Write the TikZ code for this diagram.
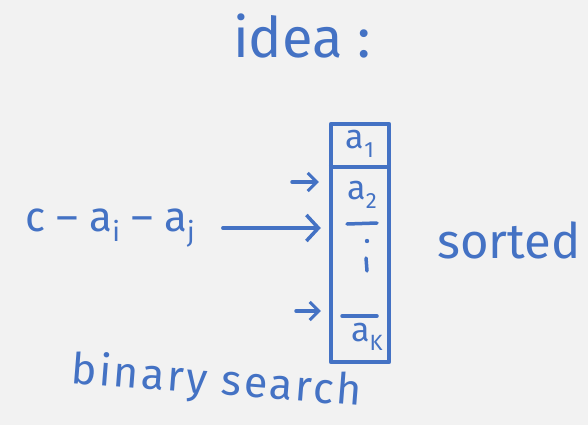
\documentclass[tikz,border=0pt]{standalone}
\usepackage{fontspec}
\setmainfont{Fira Sans}
\usetikzlibrary{arrows.meta,calc}
\definecolor{ink}{HTML}{4472C4}
\definecolor{bg}{HTML}{F2F2F2}
\newcommand{\sub}[1]{\raisebox{-0.25em}{\fontsize{0.65em}{0.65em}\selectfont #1}}
\begin{document}
\begin{tikzpicture}[x=1pt,y=-1pt,
  inkline/.style={draw=ink, line width=4.5pt, line cap=round, line join=round},
  thinline/.style={draw=ink, line width=3.5pt, line cap=round, line join=round},
  lbl/.style={text=ink, inner sep=0pt},
  bigarrow/.style={thinline, -{Straight Barb[length=12pt,width=26pt,line width=3.5pt]}},
  smallarrow/.style={thinline, -{Straight Barb[length=9pt,width=18pt,line width=3pt]}}]
\fill[bg] (0,0) rectangle (588,425);
\useasboundingbox (0,0) rectangle (588,425);
% column
\node[inkline, minimum width=58pt, minimum height=238pt, inner sep=0pt] (col) at (360,243) {};
\coordinate (d1) at (360,167);
\draw[inkline, line cap=butt] (col.west |- d1) -- (col.east |- d1);
\node[lbl, font=\fontsize{34}{34}\selectfont] (a1) at (360,144) {a\sub{1}};
\node[lbl, font=\fontsize{34}{34}\selectfont] (a2) at (362,195) {a\sub{2}};
\coordinate (h1) at (347,224); \coordinate (h1e) at (377,223);
\draw[thinline] (h1) -- (h1e);
\fill[ink] (367,241) circle (2.2pt);
\coordinate (v1) at (366,258); \coordinate (v1e) at (367,271);
\draw[thinline] (v1) -- (v1e);
\coordinate (h2) at (342,316); \coordinate (h2e) at (377,316);
\draw[thinline] (h2) -- (h2e);
\node[lbl, font=\fontsize{34}{34}\selectfont] (ak) at (367,337) {a\sub{K}};
% left expression
\node[lbl, font=\fontsize{42}{42}\selectfont] (expr) at (110,228) {c – a\sub{i} – a\sub{j}};
\draw[bigarrow, shorten <=28pt, shorten >=8pt] (expr.east) -- (col.west |- expr.east);
% small arrows
\coordinate (s1) at (292,182);
\draw[smallarrow, shorten >=10pt] (s1) -- (col.west |- s1);
\coordinate (s2) at (296,311);
\draw[smallarrow, shorten >=8pt] (s2) -- (col.west |- s2);
% texts
\node[lbl, font=\fontsize{49}{49}\selectfont] (sorted) at (509,240) {sorted};
\node[lbl, font=\fontsize{56}{56}\selectfont] (idea) at (302,36) {idea :};
\node[lbl, font=\fontsize{43}{43}\selectfont\addfontfeatures{LetterSpace=6}, rotate=-4.5, anchor=base west] (bs) at (70,383) {binary search};
\end{tikzpicture}
\end{document}
